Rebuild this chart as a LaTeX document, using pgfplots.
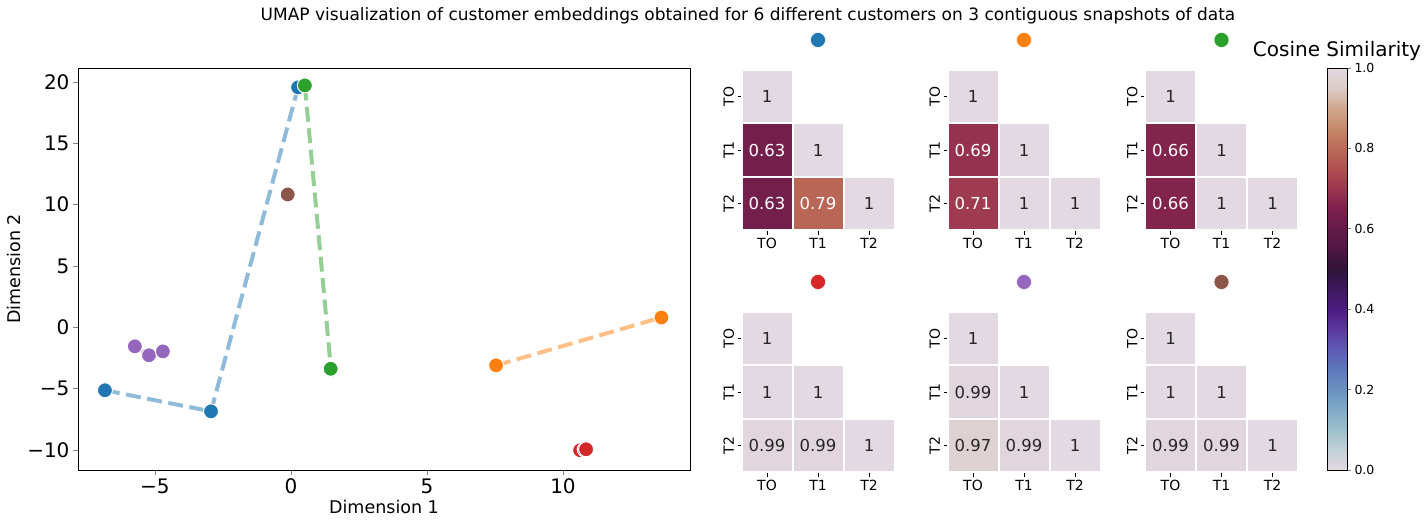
\documentclass[border=0pt]{standalone}
\usepackage{pgfplots}
\pgfplotsset{compat=1.18}
\usepackage{fontspec}
\setmainfont{DejaVu Sans}

\definecolor{c0}{HTML}{1F77B4}
\definecolor{c1}{HTML}{FF7F0E}
\definecolor{c2}{HTML}{2CA02C}
\definecolor{c3}{HTML}{D62728}
\definecolor{c4}{HTML}{9467BD}
\definecolor{c5}{HTML}{8C564B}
\definecolor{txt}{HTML}{262626}

\pgfplotsset{
  colormap={twilight}{rgb255=(226,217,226) rgb255=(194,209,215) rgb255=(157,192,204)
    rgb255=(128,171,198) rgb255=(107,147,193) rgb255=(94,121,188) rgb255=(95,90,181)
    rgb255=(91,55,159) rgb255=(77,28,128) rgb255=(62,25,96) rgb255=(47,20,54)
    rgb255=(80,22,68) rgb255=(100,26,74) rgb255=(125,32,75) rgb255=(155,54,80)
    rgb255=(175,78,82) rgb255=(187,108,88) rgb255=(198,137,106) rgb255=(208,168,142)
    rgb255=(220,204,199) rgb255=(226,217,226)},
  hm/.style={anchor=south west, scale only axis, width=153pt, height=161pt,
    xmin=-0.5, xmax=2.5, ymin=-0.5, ymax=2.5, y dir=reverse, clip=false,
    axis line style={draw=none}, xtick={0,1,2}, ytick={0,1,2},
    xticklabels={TO,T1,T2}, yticklabels={TO,T1,T2},
    tick pos=left, tick align=outside, major tick length=4pt,
    tick style={black, line width=0.8pt},
    tick label style={font=\fontsize{14}{16}\selectfont},
    yticklabel style={rotate=90, anchor=south},
    colormap name=twilight, point meta min=0, point meta max=1,
    /pgf/number format/assume math mode=true},
  cellfill/.style={scatter, only marks, mark=square*, mark size=25.5pt,
    point meta=explicit,
    scatter/use mapped color={draw=white, fill=mapped color, line width=2pt, yscale=1.052}},
  lab/.style={draw=none, mark=none,
    point meta=explicit, nodes near coords,
    every node near coord/.append style={anchor=center, text=#1,
      font=\fontsize{16.5}{18}\selectfont}},
  dot/.style={only marks, mark=*, mark size=7.5pt,
    mark options={draw=white, fill=#1, line width=0.5pt}},
  path/.style={no marks, dashed, dash pattern=on 15pt off 6.5pt, line width=4pt,
    draw=#1, opacity=0.5},
  pts/.style={only marks, mark=*, mark size=7.5pt,
    mark options={draw=white, fill=#1, line width=1pt}},
}

\begin{document}
\begin{tikzpicture}[x=1pt, y=1pt]
\path[use as bounding box] (0,0) rectangle (1427,525);
\node[font=\fontsize{17}{20}\selectfont, anchor=base] at (748,504)
  {UMAP visualization of customer embeddings obtained for 6 different customers on 3 contiguous snapshots of data};

% scatter of the embeddings
\begin{axis}[at={(78pt,55pt)}, anchor=south west, scale only axis,
    width=612pt, height=402pt,
    xmin=-7.83, xmax=14.67, ymin=-11.63, ymax=21.14,
    xtick={-5,0,5,10}, xticklabels={−5,0,5,10},
    ytick={-10,-5,0,5,10,15,20}, yticklabels={−10,−5,0,5,10,15,20},
    tick label style={font=\fontsize{20}{24}\selectfont},
    label style={font=\fontsize{17.5}{21}\selectfont},
    xlabel={Dimension 1}, ylabel={Dimension 2},
    tick pos=left, tick align=outside, major tick length=5pt,
    tick style={line width=0.9pt}, axis line style={line width=0.9pt}]
\addplot[path=c0] coordinates {(-6.84,-5.13) (-2.94,-6.85) (0.26,19.56)};
\addplot[path=c1] coordinates {(7.54,-3.10) (13.64,0.82) (13.62,0.80)};
\addplot[path=c2] coordinates {(0.51,19.72) (1.47,-3.42) (1.46,-3.38)};
\addplot[path=c3] coordinates {(10.63,-10.02) (10.85,-9.94) (10.80,-9.96)};
\addplot[path=c4] coordinates {(-5.74,-1.55) (-5.22,-2.28) (-4.71,-1.96)};
\addplot[path=c5] coordinates {(-0.11,10.84) (-0.10,10.85) (-0.12,10.83)};
\addplot[pts=c0] coordinates {(-6.84,-5.13) (-2.94,-6.85) (0.26,19.56)};
\addplot[pts=c1] coordinates {(7.54,-3.10) (13.64,0.82) (13.62,0.80)};
\addplot[pts=c2] coordinates {(0.51,19.72) (1.47,-3.42) (1.46,-3.38)};
\addplot[pts=c3] coordinates {(10.63,-10.02) (10.80,-9.96) (10.85,-9.94)};
\addplot[pts=c4] coordinates {(-5.74,-1.55) (-5.22,-2.28) (-4.71,-1.96)};
\addplot[pts=c5] coordinates {(-0.11,10.84) (-0.10,10.85) (-0.12,10.83)};
\end{axis}

% similarity matrices, top row
\begin{axis}[hm, at={(741.5pt,294.5pt)}]
\addplot[cellfill] coordinates {(0,0) [1] (0,1) [0.63] (1,1) [1] (0,2) [0.63] (1,2) [0.79] (2,2) [1]};
\addplot[lab=white] coordinates {(0,1) [0.63] (0,2) [0.63] (1,2) [0.79]};
\addplot[lab=txt] coordinates {(0,0) [1] (1,1) [1] (2,2) [1]};
\addplot[dot=c0] coordinates {(1,-1.05)};
\end{axis}
\begin{axis}[hm, at={(947.5pt,294.5pt)}]
\addplot[cellfill] coordinates {(0,0) [1] (0,1) [0.69] (1,1) [1] (0,2) [0.71] (1,2) [1] (2,2) [1]};
\addplot[lab=white] coordinates {(0,1) [0.69] (0,2) [0.71]};
\addplot[lab=txt] coordinates {(0,0) [1] (1,1) [1] (1,2) [1] (2,2) [1]};
\addplot[dot=c1] coordinates {(1,-1.05)};
\end{axis}
\begin{axis}[hm, at={(1145pt,294.5pt)}]
\addplot[cellfill] coordinates {(0,0) [1] (0,1) [0.66] (1,1) [1] (0,2) [0.66] (1,2) [1] (2,2) [1]};
\addplot[lab=white] coordinates {(0,1) [0.66] (0,2) [0.66]};
\addplot[lab=txt] coordinates {(0,0) [1] (1,1) [1] (1,2) [1] (2,2) [1]};
\addplot[dot=c2] coordinates {(1,-1.05)};
\end{axis}

% bottom row
\begin{axis}[hm, at={(741.5pt,52.5pt)}]
\addplot[cellfill] coordinates {(0,0) [1] (0,1) [1] (1,1) [1] (0,2) [0.99] (1,2) [0.99] (2,2) [1]};
\addplot[lab=txt] coordinates {(0,0) [1] (0,1) [1] (1,1) [1] (0,2) [0.99] (1,2) [0.99] (2,2) [1]};
\addplot[dot=c3] coordinates {(1,-1.05)};
\end{axis}
\begin{axis}[hm, at={(947.5pt,52.5pt)}]
\addplot[cellfill] coordinates {(0,0) [1] (0,1) [0.99] (1,1) [1] (0,2) [0.97] (1,2) [0.99] (2,2) [1]};
\addplot[lab=txt] coordinates {(0,0) [1] (0,1) [0.99] (1,1) [1] (0,2) [0.97] (1,2) [0.99] (2,2) [1]};
\addplot[dot=c4] coordinates {(1,-1.05)};
\end{axis}
\begin{axis}[hm, at={(1145pt,52.5pt)}]
\addplot[cellfill] coordinates {(0,0) [1] (0,1) [1] (1,1) [1] (0,2) [0.99] (1,2) [0.99] (2,2) [1]};
\addplot[lab=txt] coordinates {(0,0) [1] (0,1) [1] (1,1) [1] (0,2) [0.99] (1,2) [0.99] (2,2) [1]};
\addplot[dot=c5] coordinates {(1,-1.05)};
\end{axis}

% colour bar
\begin{axis}[at={(1327pt,55pt)}, anchor=south west, scale only axis,
    width=20pt, height=402pt, xmin=0, xmax=1, ymin=0, ymax=1,
    xtick=\empty, ytick={0,0.2,0.4,0.6,0.8,1},
    yticklabels={0.0,0.2,0.4,0.6,0.8,1.0},
    ytick pos=right, yticklabel pos=right, tick align=outside, major tick length=4pt,
    tick style={line width=0.8pt},
    tick label style={font=\fontsize{12.5}{14}\selectfont},
    title={Cosine Similarity},
    title style={font=\fontsize{20}{24}\selectfont, at={(0.5,1)}, anchor=base, yshift=5pt},
    colormap name=twilight, point meta min=0, point meta max=1,
    axis line style={line width=0.8pt}, axis on top]
\addplot[surf, shader=interp, mesh/cols=2, point meta=y] coordinates {
(0,0) (1,0) (0,0.05) (1,0.05) (0,0.1) (1,0.1) (0,0.15) (1,0.15)
(0,0.2) (1,0.2) (0,0.25) (1,0.25) (0,0.3) (1,0.3) (0,0.35) (1,0.35)
(0,0.4) (1,0.4) (0,0.45) (1,0.45) (0,0.5) (1,0.5) (0,0.55) (1,0.55)
(0,0.6) (1,0.6) (0,0.65) (1,0.65) (0,0.7) (1,0.7) (0,0.75) (1,0.75)
(0,0.8) (1,0.8) (0,0.85) (1,0.85) (0,0.9) (1,0.9) (0,0.95) (1,0.95)
(0,1) (1,1)};
\end{axis}
\end{tikzpicture}
\end{document}
